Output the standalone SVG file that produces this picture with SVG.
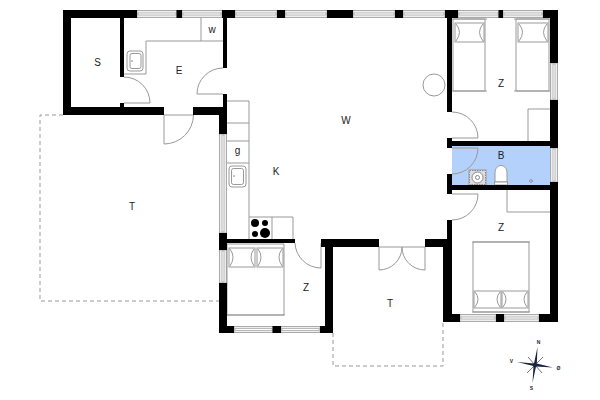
<svg xmlns="http://www.w3.org/2000/svg" width="600" height="400" viewBox="0 0 600 400">
<style>
text{font-family:"Liberation Sans",Arial,sans-serif;font-size:10px;fill:#222;text-anchor:middle}
.w{fill:#000;stroke:none}
.l{fill:none;stroke:#999;stroke-width:1}
.f{fill:#fff;stroke:#999;stroke-width:1}
.d{fill:none;stroke:#999;stroke-width:1;stroke-dasharray:4 3}
.g{fill:#eee;stroke:#aaa;stroke-width:1}
.gi{fill:#fff;stroke:#aaa;stroke-width:.8}
.c{font-size:5px;fill:#1b2440;font-weight:bold}
</style>
<rect width="600" height="400" fill="#fff"/>
<rect x="452" y="146" width="98" height="39" fill="#b3d1fa"/>
<g id="terraces">
<path class="d" d="M63 115H40V301H219"/>
<path class="d" d="M333 333V366H443V323"/>
</g>
<g id="windows">
<g class="g">
<rect x="137" y="10.500" width="40" height="7"/><rect x="182" y="10.500" width="40" height="7"/><rect x="235" y="10.500" width="42" height="7"/><rect x="285" y="10.500" width="42" height="7"/><rect x="353" y="10.500" width="42" height="7"/><rect x="403" y="10.500" width="42" height="7"/><rect x="458" y="10.500" width="41" height="7"/><rect x="503" y="10.500" width="40" height="7"/>
<rect x="460" y="314.500" width="36" height="7"/><rect x="504" y="314.500" width="35" height="7"/><rect x="234" y="326.500" width="39" height="6"/><rect x="281" y="326.500" width="39" height="6"/>
<rect x="550.500" y="63" width="7" height="37"/><rect x="550.500" y="148" width="7" height="34"/><rect x="219.500" y="134" width="7" height="99"/><rect x="219.500" y="250" width="7" height="33"/>
</g>
<g class="gi">
<rect x="138" y="13" width="38" height="2"/><rect x="183" y="13" width="38" height="2"/><rect x="236" y="13" width="40" height="2"/><rect x="286" y="13" width="40" height="2"/><rect x="354" y="13" width="40" height="2"/><rect x="404" y="13" width="40" height="2"/><rect x="459" y="13" width="39" height="2"/><rect x="504" y="13" width="38" height="2"/>
<rect x="461" y="317" width="34" height="2"/><rect x="505" y="317" width="33" height="2"/><rect x="235" y="328.500" width="37" height="2"/><rect x="282" y="328.500" width="37" height="2"/>
<rect x="553" y="64" width="2" height="35"/><rect x="553" y="149" width="2" height="32"/><rect x="222" y="135" width="2" height="97"/><rect x="222" y="251" width="2" height="31"/>
</g>
</g>
<g id="fixtures">
<path class="l" d="M124 74H146V41H223M201 18V41"/>
<rect class="f" x="127" y="51" width="16" height="20" rx="3"/><rect class="l" x="130" y="53.500" width="11" height="15" rx="2"/><circle cx="132" cy="61" r=".8" fill="#777"/>
<circle class="l" cx="434" cy="85" r="11"/>
<path class="l" d="M528 141V109H550M507 190V212H550"/>
<path class="l" d="M227 101H249V239M227 123H249M227 141H249M227 163H249"/>
<rect class="f" x="229" y="166" width="17" height="21" rx="3"/><rect class="l" x="231.500" y="168.500" width="12" height="16" rx="2"/><circle cx="234" cy="176" r=".8" fill="#777"/>
<path class="l" d="M249 217H293V239M272 217V239"/>
<circle cx="255" cy="223" r="4"/><circle cx="265" cy="223" r="3"/><circle cx="255" cy="234" r="3"/><circle cx="265" cy="233" r="5"/>
<rect class="f" x="469" y="170" width="17" height="15"/><rect x="469.500" y="170.500" width="16" height="14" fill="#ddd" stroke="#888" stroke-dasharray="1.500 1"/><circle cx="477.500" cy="177.500" r="5.500" fill="#fff" stroke="#888"/><circle cx="477.500" cy="177.500" r="2" fill="#fff" stroke="#888"/>
<path class="f" d="M495 182V173C495 163 507 163 507 173V182Z"/><rect class="f" x="494.500" y="182" width="13" height="3"/>
<path d="M531 179.500L532.500 181L531 182.500L529.500 181Z" fill="#fff" stroke="#667"/>
</g>
<g id="beds">
<path class="f" d="M453 19H485V91H453Z"/><path class="l" d="M451 19H487M451 91H487"/><rect class="l" x="455" y="23" width="29" height="19"/><path class="l" d="M456 24Q463 32 456 41M483 24Q476 32 483 41"/>
<path class="f" d="M516 19H549V91H516Z"/><path class="l" d="M514 19H550M514 91H550"/><rect class="l" x="518" y="23" width="30" height="19"/><path class="l" d="M519 24Q526 32 519 41M547 24Q540 32 547 41"/>
<path class="f" d="M473 242H529V312H473Z"/><path class="l" d="M472 242H530M472 312H530"/><rect class="l" x="474" y="291" width="27" height="17"/><rect class="l" x="502" y="291" width="26" height="17"/><path class="l" d="M475 292Q481 299 475 307M500 292Q494 299 500 307M503 292Q509 299 503 307M527 292Q521 299 527 307"/>
<path class="f" d="M227 244H284V315H227Z"/><path class="l" d="M227 315H285"/><rect class="l" x="229" y="248" width="26" height="19"/><rect class="l" x="257" y="248" width="26" height="19"/><path class="l" d="M230 249Q236 257 230 266M254 249Q248 257 254 266M258 249Q264 257 258 266M282 249Q276 257 282 266"/>
</g>
<g id="doors">
<path class="l" d="M124 77A26 26 0 0 1 150 103H124"/>
<path class="l" d="M164 115V144A29.500 29.500 0 0 0 193.500 115M164 115H193"/>
<path class="l" d="M223 68A26 26 0 0 0 197 94H223"/>
<path class="l" d="M452 112A26 26 0 0 1 478 138H452"/>
<path class="l" d="M452 174A26 26 0 0 0 478 148H452"/>
<path class="l" d="M452 220A26 26 0 0 0 478 194H452"/>
<path class="l" d="M295 243A26 26 0 0 0 321 268V243"/>
<path class="l" d="M379 247V270A23 23 0 0 0 402 247A23 23 0 0 0 425 270V247M379 247H425"/>
</g>
<g id="walls" class="w">
<path d="M63 10H137V18H71V107H120V103H124V107H164V115H63Z"/>
<rect x="120" y="18" width="4" height="59"/>
<rect x="176.500" y="10" width="5.500" height="8"/><rect x="222" y="10" width="13" height="8"/><rect x="277" y="10" width="8" height="8"/><rect x="327" y="10" width="26" height="8"/><rect x="395" y="10" width="8" height="8"/><rect x="445" y="10" width="13" height="8"/><rect x="498.500" y="10" width="4.500" height="8"/>
<path d="M543 10H558V63H550V18H543Z"/>
<rect x="223" y="18" width="4" height="50"/><rect x="223" y="94" width="4" height="13"/>
<path d="M193 107H227V134H219V115H193Z"/>
<rect x="447" y="18" width="5" height="94"/>
<rect x="550" y="100" width="8" height="48"/>
<rect x="447" y="138" width="5" height="10"/><rect x="447" y="141" width="103" height="5"/>
<rect x="447" y="174" width="5" height="20"/><rect x="447" y="185" width="103" height="5"/>
<path d="M550 182H558V322H539V314H550Z"/>
<rect x="496" y="314" width="8" height="8"/>
<path d="M447 220H452V322H443V247H425V239H447Z"/>
<path d="M443 314H460V322H443Z"/>
<rect x="219" y="233" width="8" height="17"/><rect x="219" y="239" width="76" height="4"/>
<path d="M219 283H227V326H234V333H219Z"/>
<rect x="272.500" y="326" width="8.500" height="7"/>
<path d="M320 326H325V247H321V239H379V247H333V333H320Z"/>
</g>
<g id="labels">
<text x="97.500" y="65.500">S</text>
<text x="179" y="73.500">E</text>
<text x="212" y="33">w</text>
<text x="346" y="123.500">W</text>
<text x="501" y="86.500">Z</text>
<text x="501" y="158.500">B</text>
<text x="501" y="230.500">Z</text>
<text x="237.500" y="154">g</text>
<text x="276" y="174.500">K</text>
<text x="132" y="209.500">T</text>
<text x="306" y="290.500">Z</text>
<text x="390" y="306.500">T</text>
</g>
<g id="compass">
<path d="M537.500 347L536.800 363.500L553 367.500L536 366.500L532.500 383L533.500 366L517 362L534 363.500Z" fill="#1b2440"/>
<path d="M528 357L542 373M543 357L527 373" stroke="#667" stroke-width=".9" fill="none"/>
<circle cx="535" cy="365" r="2.200" fill="#1b2440"/>
<text class="c" x="538.500" y="343.500">N</text><text class="c" x="558.500" y="370">Ø</text><text class="c" x="531.500" y="390">S</text><text class="c" x="511.500" y="363">V</text>
</g>
</svg>
